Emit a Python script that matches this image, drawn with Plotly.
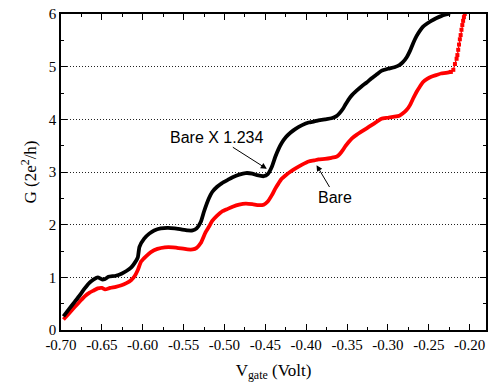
import plotly.graph_objects as go

# Bare (red)
bare_v = [-0.697, -0.690, -0.683, -0.677, -0.671, -0.665, -0.660, -0.655, -0.650, -0.646,
          -0.640, -0.633, -0.626, -0.620, -0.614, -0.610, -0.606, -0.602, -0.596, -0.590,
          -0.582, -0.573, -0.563, -0.553, -0.545, -0.539, -0.534, -0.529, -0.523, -0.519,
          -0.515, -0.509, -0.503, -0.496, -0.490, -0.482, -0.474, -0.466, -0.458, -0.452,
          -0.447, -0.442, -0.438, -0.434, -0.430, -0.425, -0.419, -0.413, -0.405, -0.397,
          -0.390, -0.385, -0.377, -0.369, -0.363, -0.359, -0.355, -0.352, -0.348, -0.344,
          -0.338, -0.332, -0.326, -0.320, -0.314, -0.308, -0.300, -0.292, -0.286, -0.282,
          -0.277, -0.273, -0.269, -0.265, -0.261, -0.257, -0.252, -0.247, -0.241, -0.235,
          -0.229, -0.223, -0.220, -0.218, -0.216, -0.215, -0.214, -0.213, -0.212, -0.211,
          -0.210, -0.209, -0.208, -0.207, -0.206]
bare_g = [0.20, 0.32, 0.44, 0.54, 0.64, 0.71, 0.75, 0.79, 0.80, 0.77,
          0.80, 0.82, 0.85, 0.89, 0.95, 1.02, 1.14, 1.30, 1.40, 1.48,
          1.54, 1.57, 1.57, 1.55, 1.53, 1.53, 1.56, 1.65, 1.86, 1.96,
          2.07, 2.17, 2.25, 2.30, 2.34, 2.38, 2.40, 2.39, 2.37, 2.38,
          2.44, 2.56, 2.68, 2.78, 2.87, 2.94, 3.01, 3.07, 3.14, 3.20,
          3.22, 3.24, 3.25, 3.27, 3.29, 3.34, 3.42, 3.49, 3.57, 3.64,
          3.71, 3.77, 3.83, 3.89, 3.95, 4.01, 4.03, 4.05, 4.07, 4.11,
          4.18, 4.27, 4.40, 4.52, 4.62, 4.71, 4.77, 4.81, 4.84, 4.87,
          4.88, 4.90, 4.94, 5.05, 5.15, 5.22, 5.32, 5.42, 5.52, 5.60,
          5.70, 5.79, 5.87, 5.94, 6.00]

# Bare X 1.234 (black)
scaled_v = [-0.697, -0.690, -0.683, -0.677, -0.671, -0.665, -0.660, -0.655, -0.650, -0.646,
            -0.642, -0.633, -0.626, -0.620, -0.614, -0.610, -0.606, -0.604, -0.598, -0.592,
            -0.586, -0.578, -0.569, -0.561, -0.553, -0.545, -0.539, -0.534, -0.529, -0.525,
            -0.519, -0.515, -0.509, -0.503, -0.496, -0.490, -0.482, -0.474, -0.466, -0.460,
            -0.452, -0.447, -0.442, -0.438, -0.434, -0.430, -0.425, -0.419, -0.413, -0.405,
            -0.397, -0.390, -0.385, -0.377, -0.369, -0.363, -0.359, -0.355, -0.352, -0.348,
            -0.344, -0.338, -0.332, -0.326, -0.320, -0.314, -0.308, -0.300, -0.292, -0.286,
            -0.282, -0.277, -0.273, -0.269, -0.265, -0.261, -0.257, -0.252, -0.247, -0.241,
            -0.235, -0.229, -0.224]
scaled_g = [0.26, 0.40, 0.54, 0.66, 0.79, 0.90, 0.96, 1.00, 0.96, 0.97,
            1.01, 1.03, 1.07, 1.12, 1.19, 1.27, 1.38, 1.58, 1.74, 1.83,
            1.89, 1.93, 1.94, 1.93, 1.91, 1.89, 1.89, 1.93, 2.05, 2.25,
            2.50, 2.62, 2.72, 2.79, 2.85, 2.90, 2.95, 2.98, 2.97, 2.94,
            2.92, 2.96, 3.10, 3.28, 3.43, 3.55, 3.66, 3.75, 3.82, 3.89,
            3.94, 3.96, 3.98, 4.00, 4.02, 4.06, 4.12, 4.20, 4.28, 4.38,
            4.46, 4.55, 4.63, 4.70, 4.78, 4.85, 4.92, 4.96, 4.99, 5.03,
            5.08, 5.18, 5.30, 5.45, 5.58, 5.68, 5.76, 5.82, 5.87, 5.92,
            5.96, 5.99, 6.01]

x_tickvals = [-0.70, -0.65, -0.60, -0.55, -0.50, -0.45, -0.40, -0.35, -0.30, -0.25, -0.20]
x_ticktext = ["-0.70", "-0.65", "-0.60", "-0.55", "-0.50", "-0.45", "-0.40",
              "-0.35", "-0.30", "-0.25", "-0.20"]
y_tickvals = [0, 1, 2, 3, 4, 5, 6]

# the sparse tail of the red sweep (thin line with visible markers)
tail_start = 81

fig = go.Figure()
fig.add_trace(go.Scatter(x=bare_v[:tail_start + 1], y=bare_g[:tail_start + 1], mode="lines",
                         line=dict(color="#ff0000", width=3.8, shape="spline", smoothing=0.5),
                         showlegend=False))
fig.add_trace(go.Scatter(x=bare_v[tail_start:], y=bare_g[tail_start:], mode="lines+markers",
                         line=dict(color="#ff0000", width=1.2),
                         marker=dict(symbol="square", size=4, color="#ff0000"),
                         showlegend=False))
fig.add_trace(go.Scatter(x=scaled_v, y=scaled_g, mode="lines",
                         line=dict(color="#000000", width=3.8, shape="spline", smoothing=0.5),
                         showlegend=False))

serif = "Liberation Serif, Times New Roman, serif"
sans = "Liberation Sans, Arial, sans-serif"

axis_common = dict(showline=True, linecolor="black", linewidth=1.5, mirror="allticks",
                   ticks="inside", ticklen=6, tickwidth=1.2, tickcolor="black",
                   zeroline=False, tickfont=dict(family=serif, size=15, color="black"))

fig.update_xaxes(range=[-0.70, -0.18], tickvals=x_tickvals, ticktext=x_ticktext,
                 showgrid=False,
                 minor=dict(dtick=0.025, tick0=-0.70, ticks="inside", ticklen=3.5,
                            tickwidth=1.2, tickcolor="black", showgrid=False),
                 title=dict(text="V<sub>gate</sub> (Volt)",
                            font=dict(family=serif, size=17, color="black"), standoff=12),
                 **axis_common)
fig.update_yaxes(range=[0, 6], tickvals=y_tickvals, showgrid=True,
                 gridcolor="#222222", griddash="1px,2px", gridwidth=0.8,
                 minor=dict(dtick=0.5, tick0=0, ticks="inside", ticklen=3.5,
                            tickwidth=1.2, tickcolor="black", showgrid=False),
                 title=dict(text="G (2e<sup>2</sup>/h)",
                            font=dict(family=serif, size=17, color="black"), standoff=8),
                 **axis_common)

annots = [
    dict(x=-0.4482, y=3.06, ax=-0.5090, ay=3.66, text="Bare X 1.234"),
    dict(x=-0.3873, y=3.13, ax=-0.3642, ay=2.525, text="Bare"),
]
for a in annots:
    fig.add_annotation(**a, xref="x", yref="y", axref="x", ayref="y", showarrow=True,
                       arrowhead=2, arrowsize=1.2, arrowwidth=1, arrowcolor="black",
                       standoff=0, font=dict(family=sans, size=16, color="black"))

fig.update_layout(width=489, height=385, margin=dict(l=61, r=1, t=14, b=55),
                  plot_bgcolor="white", paper_bgcolor="white")

fig.write_html("out.html")
